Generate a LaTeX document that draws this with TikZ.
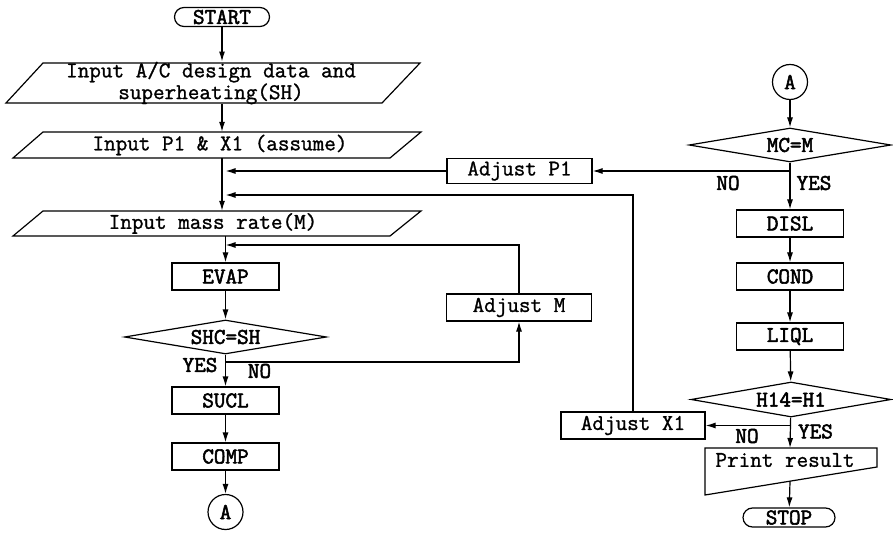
\documentclass[tikz,border=0pt]{standalone}
\usepackage{fontspec}
\newfontfamily\tfont[LetterSpace=0,FakeBold=1.2]{Latin Modern Mono}
\newfontfamily\bfont[LetterSpace=0,FakeBold=2.4]{Latin Modern Mono}
\usetikzlibrary{shapes.geometric,arrows.meta}
\begin{document}
\begin{tikzpicture}[x=1pt,y=-1pt,
  every node/.style={font=\fontsize{22.5}{18}\tfont},
  bold/.style={font=\fontsize{22.5}{18}\bfont},
  ln/.style={line width=1.2pt},
  arr/.style={ln,-{Latex[length=10pt,width=6pt]}},
  box/.style={draw,ln,bold,minimum width=107pt,minimum height=27pt,inner sep=0pt},
  abox/.style={draw,ln,minimum width=145pt,minimum height=26pt,inner sep=0pt},
  dia/.style={draw,ln,bold,diamond,aspect=6,inner sep=0pt,minimum width=202pt,minimum height=34pt},
  term/.style={draw,ln,bold,rounded corners=9.5pt,minimum height=19pt,inner sep=0pt},
  conn/.style={draw,ln,bold,circle,minimum size=35pt,inner sep=0pt},
  txt/.style={inner sep=0pt,align=center},
  lab/.style={inner sep=0pt,bold}
]
\useasboundingbox (0,0) rectangle (893,534);
% ---------- left column ----------
\node[term,minimum width=95pt] (start) at (222,17) {START};
\draw[ln] (43,63) -- (420,63) -- (382,103) -- (6,103) -- cycle;
\node[txt,minimum height=40pt] (in1) at (211,83) {Input A/C design data and\\superheating(SH)};
\draw[ln] (43,132) -- (421,132) -- (390,158) -- (13,158) -- cycle;
\node[txt,minimum height=26pt] (in2) at (220,145) {Input P1 \& X1 (assume)};
\draw[ln] (43,211) -- (421,211) -- (390,236) -- (13,236) -- cycle;
\node[txt,minimum height=25pt] (in3) at (213,223.5) {Input mass rate(M)};
\node[box] (evap) at (225.5,276.5) {EVAP};
\node[dia] (shc) at (225.5,337) {SHC=SH};
\node[box] (sucl) at (225.5,400.5) {SUCL};
\node[box] (comp) at (225.5,456.5) {COMP};
\node[conn] (a1) at (225.5,512) {A};
\node[abox,minimum height=27pt] (adjm) at (519,307.5) {Adjust M};
% ---------- right column ----------
\node[conn] (a2) at (790,82) {A};
\node[dia] (mc) at (790,145) {MC=M};
\node[abox,minimum height=25pt] (adjp) at (519.5,171) {Adjust P1};
\node[box] (disl) at (790,223.5) {DISL};
\node[box] (cond) at (790,276.5) {COND};
\node[box] (liql) at (790,336.5) {LIQL};
\node[dia,minimum width=200pt,minimum height=35pt] (h14) at (791,399.5) {H14=H1};
\node[abox,minimum height=27pt,minimum width=144pt] (adjx) at (633,425.5) {Adjust X1};
\draw[ln] (705,448) -- (877,448) -- (877,467) -- (705,495) -- cycle;
\node[txt] (pr) at (785,460) {Print result};
\coordinate (prt) at (790,448);
\coordinate (prb) at (790,481.2);
\node[term,minimum width=92pt] (stop) at (789,517.5) {STOP};
% ---------- junction coordinates ----------
\coordinate (jp) at (225.5,171);
\coordinate (jx) at (225.5,195);
\coordinate (jm) at (225.5,245);
\coordinate (jn) at (225.5,362);
% ---------- connectors ----------
\draw[arr] (start) -- (start |- in1.north);
\draw[arr] (in1.south -| start) -- (in2.north -| start);
\draw[arr] (in2.south -| start) -- (in3.north -| start);
\draw[arr] (in3.south -| evap) -- (evap);
\draw[arr] (evap) -- (shc);
\draw[arr] (shc) -- (sucl);
\draw[arr] (sucl) -- (comp);
\draw[arr] (comp) -- (a1);
\draw[arr] (jn) -| (adjm);
\draw[arr] (adjm) |- (jm);
\draw[arr] (a2) -- (mc);
\draw[arr] (mc) -- (disl);
\draw[arr] (mc.south |- adjp) -- (adjp);
\draw[arr] (adjp) -- (jp);
\draw[arr] (disl) -- (cond);
\draw[arr] (cond) -- (liql);
\draw[arr] (liql) -- (h14);
\draw[arr] (h14) -- (prt);
\draw[arr] (h14.south |- adjx) -- (adjx);
\draw[arr] (adjx) |- (jx);
\draw[arr] (prb) -- (stop);
% ---------- labels ----------
\node[lab] (yes1) at (200,365) {YES};
\node[lab] (no1) at (259.5,371) {NO};
\node[lab] (no2) at (728,183) {NO};
\node[lab] (yes2) at (814,183) {YES};
\node[lab] (no3) at (747,436) {NO};
\node[lab] (yes3) at (815.5,431.5) {YES};
\end{tikzpicture}
\end{document}
